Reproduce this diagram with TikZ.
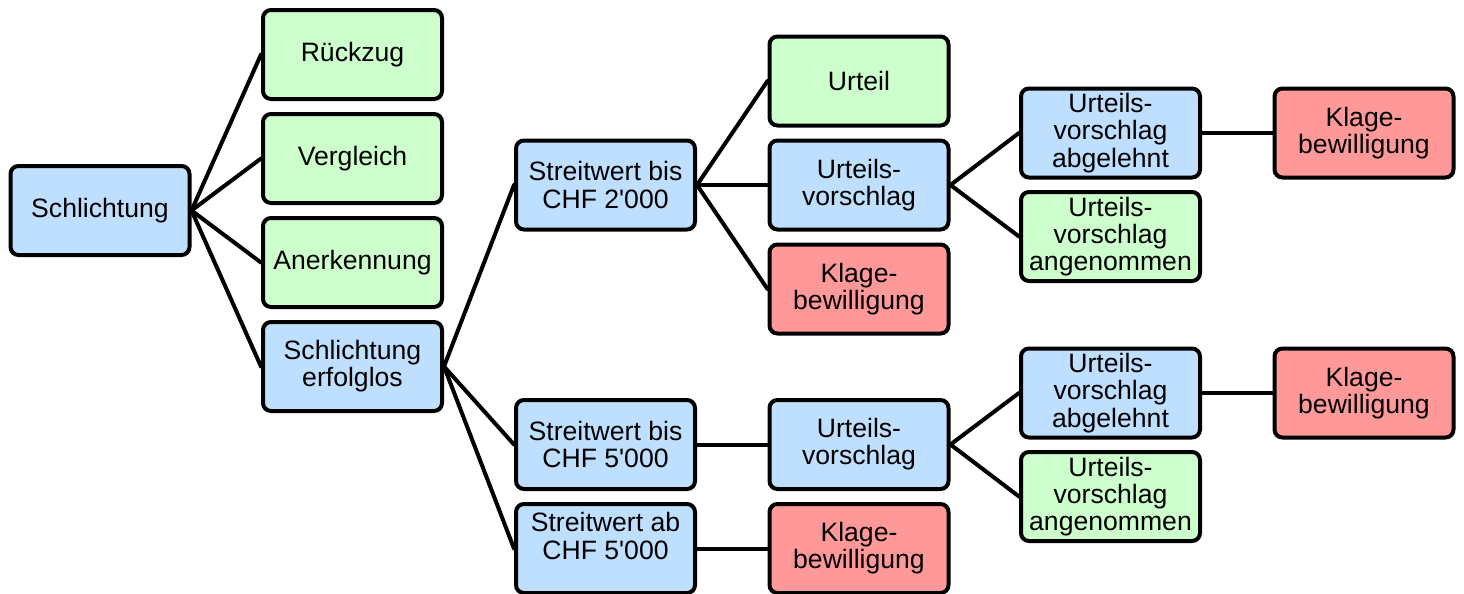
\documentclass[tikz,border=0pt]{standalone}
\usepackage{fontspec}
\setmainfont{Liberation Sans}
\newfontfamily\plainqfont{Liberation Sans}
\definecolor{bluebox}{RGB}{191,223,255}
\definecolor{greenbox}{RGB}{204,255,204}
\definecolor{redbox}{RGB}{255,153,153}
\newcommand{\sq}{{\plainqfont\char"0027}}
\tikzset{
  box/.style={draw=black, line width=2pt, rounded corners=4pt,
    minimum width=89.5pt, minimum height=44.5pt, inner sep=0pt,
    align=center, font=\fontsize{13.3pt}{13.6pt}\selectfont},
  bbox/.style={box, fill=bluebox},
  gbox/.style={box, fill=greenbox},
  rbox/.style={box, fill=redbox},
  txt/.style={align=center, inner sep=0pt, font=\fontsize{13.3pt}{13.6pt}\selectfont},
  conn/.style={draw=black, line width=2pt},
}
\begin{document}
\begin{tikzpicture}[x=0.5pt,y=-0.5pt]
\useasboundingbox (0,0) rectangle (1464,594);
\node[bbox] (schl) at (100,210.5) {Schlichtung};
\node[gbox] (rueck) at (352.5,54.5) {Rückzug};
\node[gbox] (vergl) at (352.5,158.5) {Vergleich};
\node[gbox] (anerk) at (352.5,262.5) {Anerkennung};
\node[bbox] (erfol) at (352.5,366.5) {Schlichtung\\erfolglos};
\node[bbox] (sw2) at (605.5,185) {Streitwert bis\\CHF 2\sq000};
\node[bbox] (sw5) at (605.5,444.5) {Streitwert bis\\CHF 5\sq000};
\node[bbox] (sab) at (605.5,548.5) {};
\node[txt] (sabtxt) at (605.5,536) {Streitwert ab\\CHF 5\sq000};
\node[gbox] (urteil) at (859,81) {Urteil};
\node[bbox] (uv1) at (859,185) {Urteils-\\vorschlag};
\node[rbox] (kb1) at (859,289) {Klage-\\bewilligung};
\node[bbox] (uv2) at (859,444.5) {Urteils-\\vorschlag};
\node[rbox] (kb2) at (859,548.5) {Klage-\\bewilligung};
\node[bbox] (abg1) at (1110.5,133) {Urteils-\\vorschlag\\abgelehnt};
\node[gbox] (ang1) at (1110.5,236.5) {Urteils-\\vorschlag\\angenommen};
\node[bbox] (abg2) at (1110.5,393) {Urteils-\\vorschlag\\abgelehnt};
\node[gbox] (ang2) at (1110.5,496.5) {Urteils-\\vorschlag\\angenommen};
\node[rbox] (kb3) at (1364,133) {Klage-\\bewilligung};
\node[rbox] (kb4) at (1364,393) {Klage-\\bewilligung};
\foreach \a/\b in {schl/rueck, schl/vergl, schl/anerk, schl/erfol,
  erfol/sw2, erfol/sw5, erfol/sab,
  sw2/urteil, sw2/uv1, sw2/kb1, sw5/uv2, sab/kb2,
  uv1/abg1, uv1/ang1, uv2/abg2, uv2/ang2, abg1/kb3, abg2/kb4}
  \draw[conn, line cap=round] (\a.east) -- (\b.west);
\end{tikzpicture}
\end{document}
